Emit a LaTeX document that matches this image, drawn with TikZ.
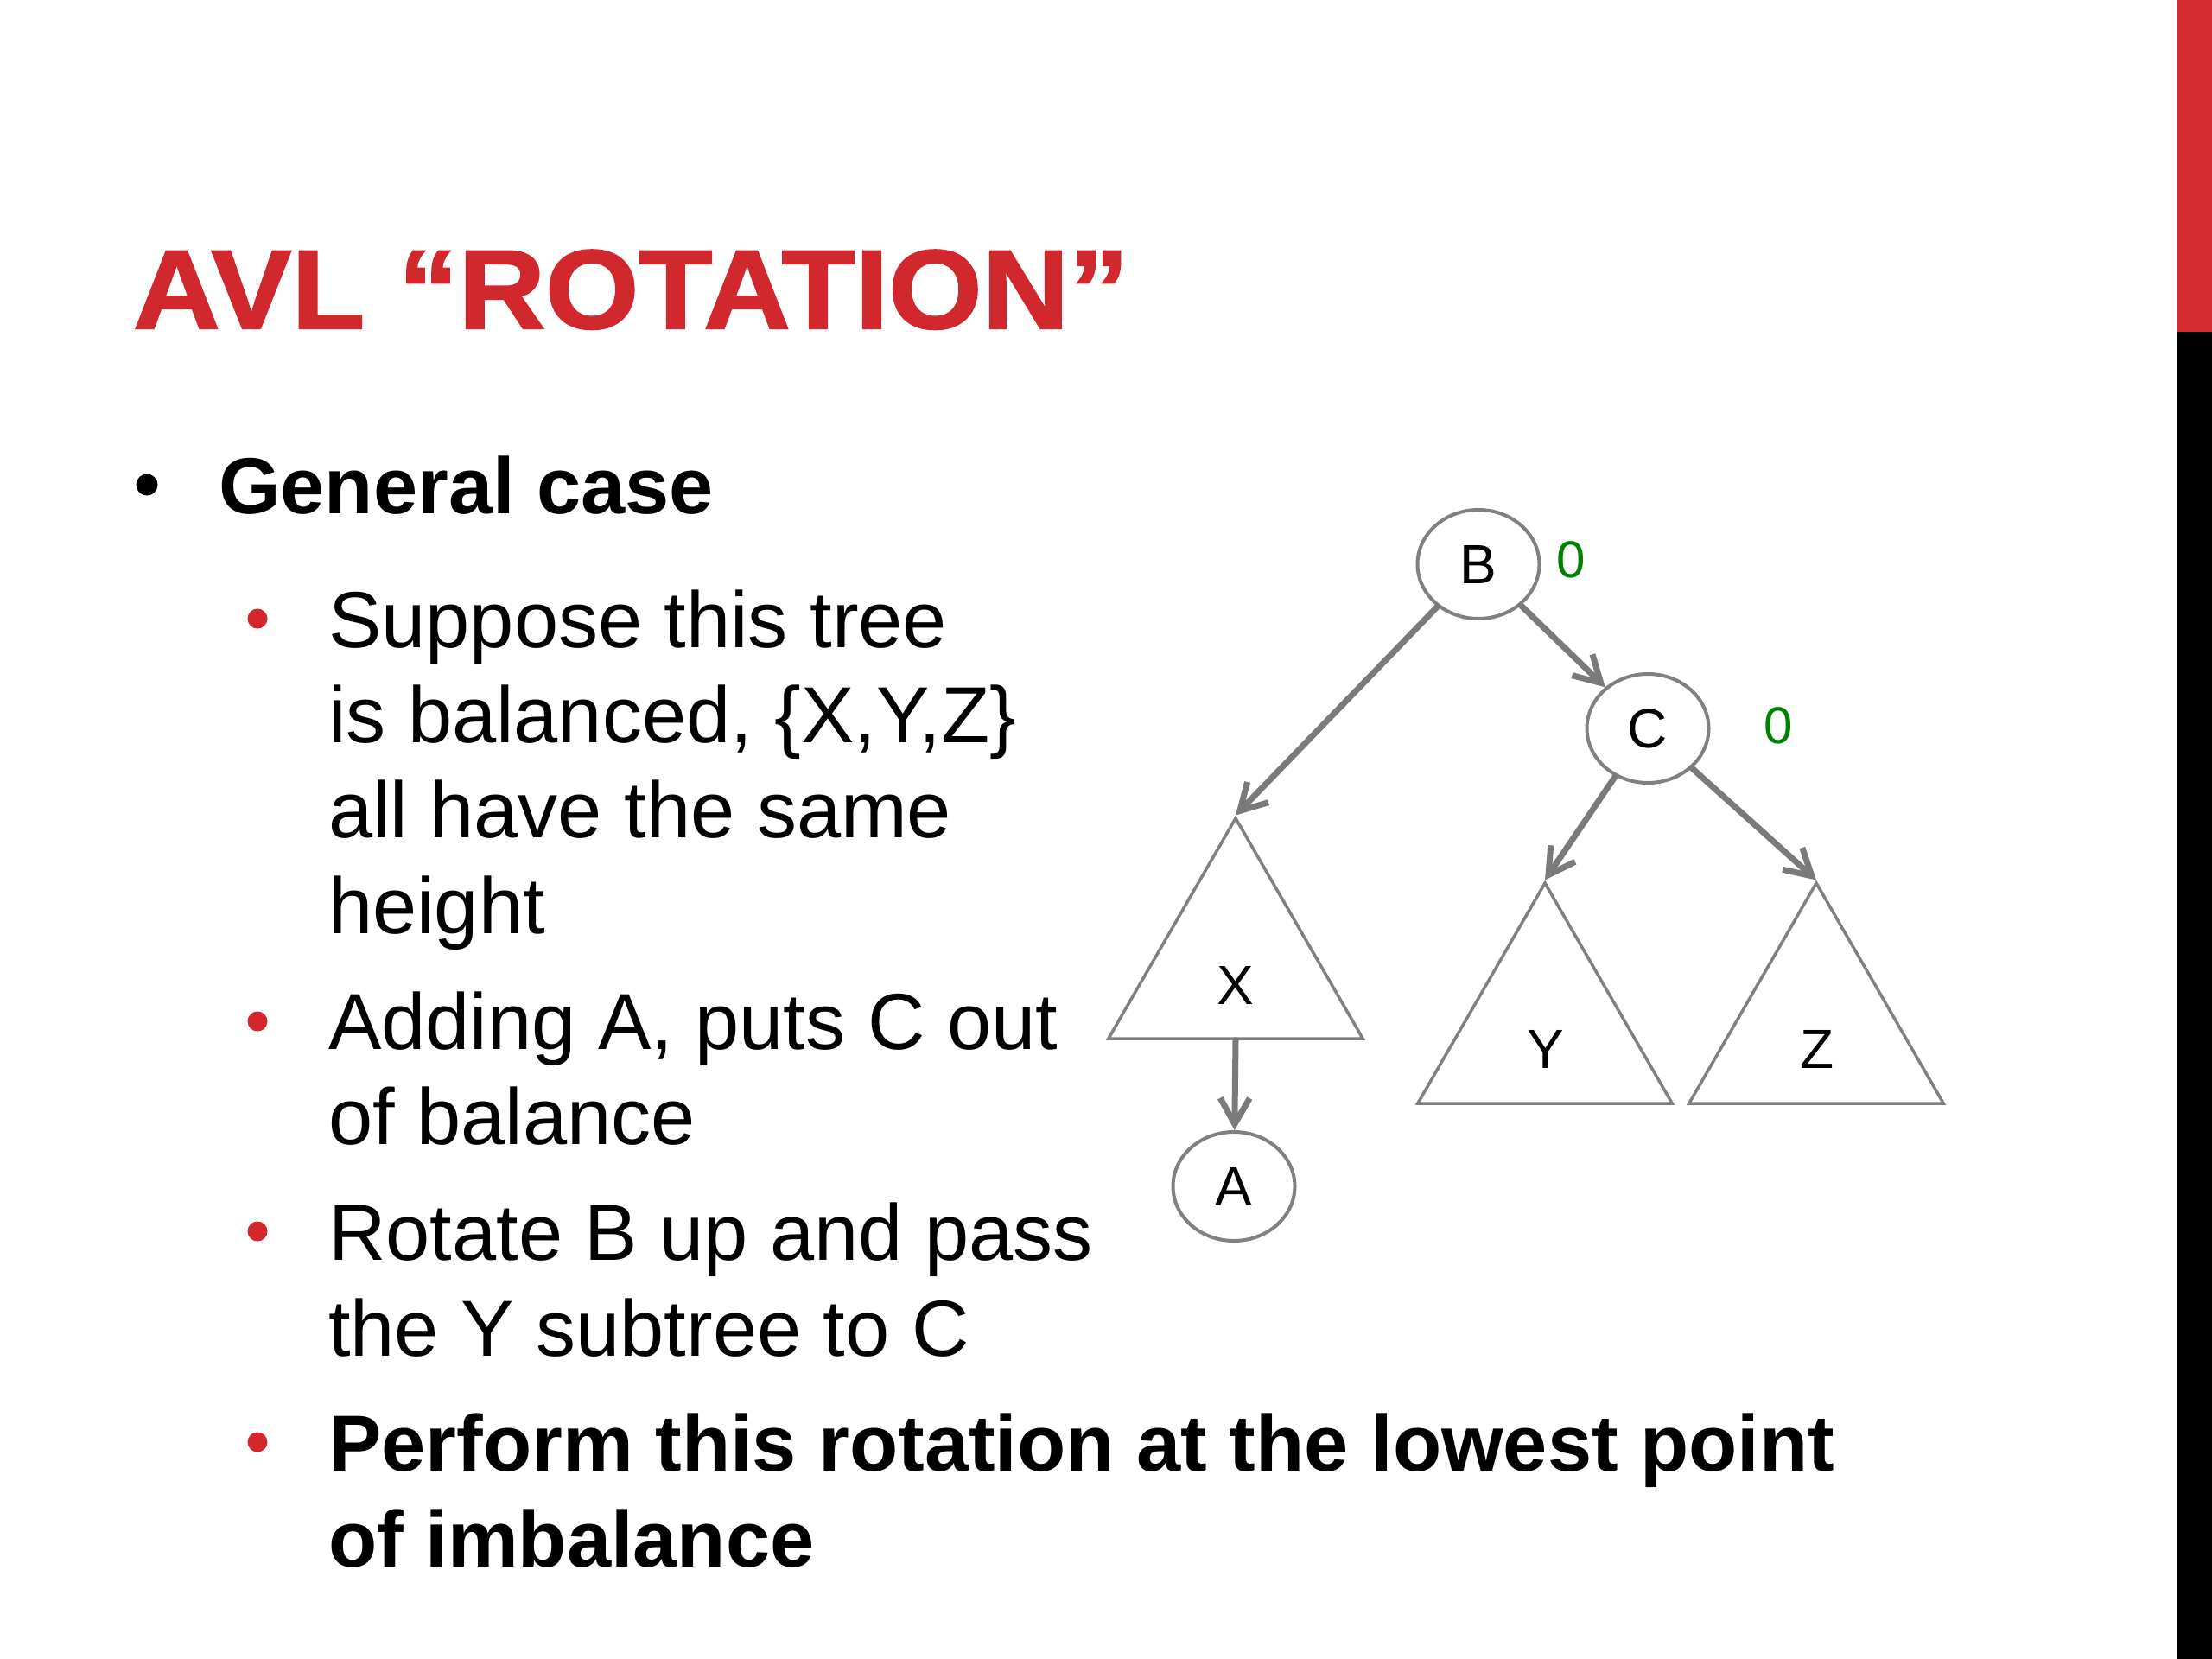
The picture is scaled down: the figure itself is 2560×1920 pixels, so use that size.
\documentclass[tikz,border=0pt]{standalone}
\usepackage{fontspec}
\setmainfont{Liberation Sans}
\newfontfamily\titlefont[FakeBold=1.6,FakeStretch=1.05]{Liberation Sans Bold}
\usetikzlibrary{arrows.meta,shapes.geometric,calc}
\definecolor{titlered}{RGB}{209,40,46}
\definecolor{barred}{RGB}{213,43,48}
\definecolor{edgegray}{RGB}{122,122,122}
\definecolor{shapegray}{RGB}{128,128,128}
\definecolor{balgreen}{RGB}{0,128,0}
\definecolor{bulletred}{RGB}{211,38,45}
\begin{document}
\begin{tikzpicture}[x=1pt,y=-1pt,
  body/.style={inner sep=0pt, anchor=base west, font=\fontsize{92}{110}\selectfont},
  bodybold/.style={inner sep=0pt, anchor=base west, font=\fontsize{92}{110}\selectfont\bfseries},
  dotblack/.style={circle, fill=black, inner sep=0pt, minimum size=25pt},
  dotred/.style={circle, fill=bulletred, inner sep=0pt, minimum size=23pt},
  treenode/.style={ellipse, draw=shapegray, line width=4pt, fill=white, minimum width=141pt, minimum height=126pt, inner sep=0pt, font=\fontsize{64}{64}\selectfont},
  subtree/.style={regular polygon, regular polygon sides=3, draw=shapegray, line width=3.5pt, fill=white, minimum size=340pt, inner sep=0pt},
  leaflabel/.style={inner sep=0pt, font=\fontsize{64}{64}\selectfont},
  edge/.style={draw=edgegray, line width=7pt, line cap=round, -{Straight Barb[length=30pt,width=34pt,line width=7pt]}},
  balance/.style={text=balgreen, inner sep=0pt, font=\fontsize{60}{60}\selectfont}
]
\useasboundingbox (0,0) rectangle (2560,1920);
\fill[white] (0,0) rectangle (2560,1920);
% side bar
\fill[barred] (2520,0) rectangle (2560,384);
\fill[black] (2520,384) rectangle (2560,1920);

% title
\node[inner sep=0pt, anchor=base west, text=titlered, font=\fontsize{130}{150}\titlefont] (title) at (154,380) {\scalebox{1.02}[1]{AVL “ROTATION”}};

% bullets and text
\node[dotblack] (d0) at (170,561) {};
\node[bodybold] (t0) at (253,594) {General case};

\node[dotred] (d1) at (298,716) {};
\node[body] (t1a) at (380,749) {Suppose this tree};
\node[body] (t1b) at (380,859) {is balanced, \{X,Y,Z\}};
\node[body] (t1c) at (380,969) {all have the same};
\node[body] (t1d) at (380,1080) {height};

\node[dotred] (d2) at (298,1182) {};
\node[body] (t2a) at (380,1214) {Adding A, puts C out};
\node[body] (t2b) at (380,1324) {of balance};

\node[dotred] (d3) at (298,1425) {};
\node[body] (t3a) at (380,1458) {Rotate B up and pass};
\node[body] (t3b) at (380,1569) {the Y subtree to C};

\node[dotred] (d4) at (298,1669) {};
\node[bodybold] (t4a) at (380,1702) {Perform this rotation at the lowest point};
\node[bodybold] (t4b) at (380,1813) {of imbalance};

% tree
\node[subtree] (X) at (1430,1117) {};
\node[subtree] (Y) at (1788,1192) {};
\node[subtree] (Z) at (2102,1192) {};
\node[leaflabel] (Xl) at (1430,1140) {X};
\node[leaflabel] (Yl) at (1789,1214) {Y};
\node[leaflabel] (Zl) at (2103,1214) {Z};

\node[treenode] (B) at (1711,653) {B};
\node[treenode] (C) at (1907,843) {C};
\node[treenode] (A) at (1428,1373) {A};

\node[balance] (b0) at (1818,648) {0};
\node[balance] (c0) at (2058,840) {0};

\draw[edge] (B) -- (X.corner 1);
\draw[edge] (B) -- (C);
\draw[edge] (C) -- (Y.corner 1);
\draw[edge] (C) -- (Z.corner 1);
\draw[edge] (X.side 2) -- (A);
\end{tikzpicture}
\end{document}
